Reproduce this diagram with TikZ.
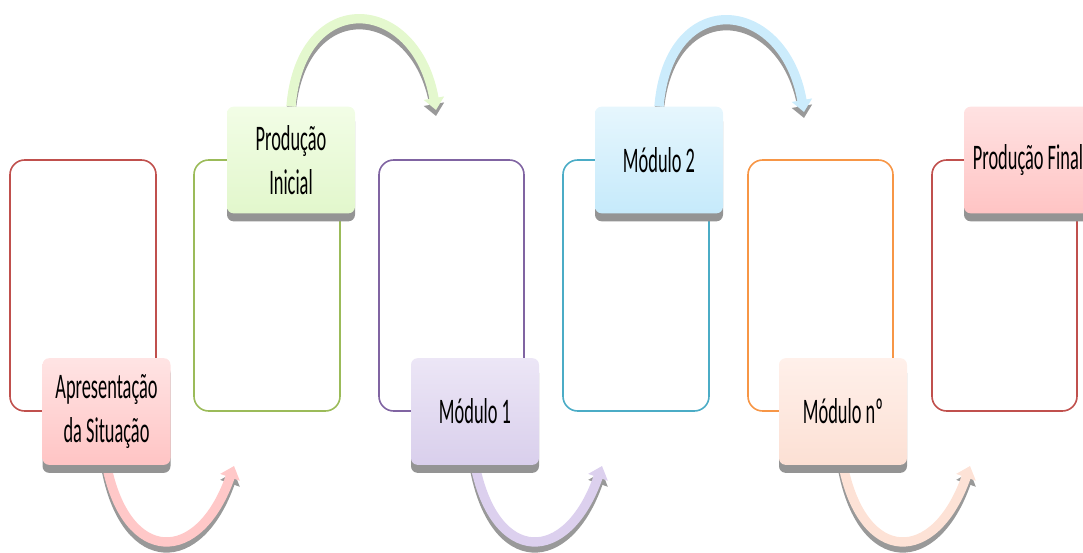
\documentclass[tikz,border=0pt]{standalone}
\usepackage{fontspec}
\setmainfont{Carlito}[FakeStretch=0.51]
\usepackage{tikz}
\usetikzlibrary{arrows.meta,shadows,backgrounds}

\definecolor{frRed}{HTML}{C0504D}
\definecolor{frGreen}{HTML}{9BBB59}
\definecolor{frPurple}{HTML}{8064A2}
\definecolor{frTeal}{HTML}{4BACC6}
\definecolor{frOrange}{HTML}{F79646}

\tikzset{
  frame/.style={line width=1.2pt, rounded corners=11pt},
  lbl/.style={rounded corners=5pt, minimum width=96pt, minimum height=80pt,
    align=center, inner sep=2pt, font=\fontsize{27}{33}\selectfont,
    drop shadow={shadow xshift=0pt, shadow yshift=-6pt, fill=black!42, opacity=1}},
  jump/.style={line width=7pt, -{Triangle[length=9pt,width=15pt]}},
  jumpshade/.style={jump, draw=black!40, transform canvas={yshift=-4.5pt}},
}

\begin{document}
\begin{tikzpicture}[x=0.75pt,y=0.75pt,yscale=-1,xscale=1]
\useasboundingbox (0,0) rectangle (1083,553);
\clip (0,0) rectangle (1083,553);

% Text Node
\node (apres) [lbl, top color={rgb,255:red,255;green,228;blue,228}, bottom color={rgb,255:red,255;green,196;blue,196}] at (106.5,411.5) {Apresentação\\da Situação} ;
% Text Node
\node (prodini) [lbl, top color={rgb,255:red,242;green,253;blue,230}, bottom color={rgb,255:red,226;green,247;blue,204}] at (291,160) {Produção\\Inicial} ;
% Text Node
\node (mod1) [lbl, top color={rgb,255:red,236;green,230;blue,246}, bottom color={rgb,255:red,217;green,207;blue,236}] at (475,411.5) {Módulo 1} ;
% Text Node
\node (mod2) [lbl, top color={rgb,255:red,230;green,246;blue,253}, bottom color={rgb,255:red,198;green,234;blue,251}] at (659,160) {Módulo 2} ;
% Text Node
\node (modn) [lbl, top color={rgb,255:red,255;green,240;blue,234}, bottom color={rgb,255:red,252;green,224;blue,212}] at (843,411.5) {Módulo nº} ;
% Text Node
\node (prodfin) [lbl, top color={rgb,255:red,255;green,226;blue,226}, bottom color={rgb,255:red,255;green,196;blue,196}] at (1028,160) {Produção Final} ;

% Arrow ends
\coordinate (tipA) at (234,466) ;
\coordinate (tipB) at (436,110) ;
\coordinate (tipC) at (602,466) ;
\coordinate (tipD) at (804,112) ;
\coordinate (tipE) at (970,466) ;

\begin{scope}[on background layer]
%Shape: Rounded Rect [frames]
\draw [frame, frRed]    (10,160) rectangle (156,411) ;
\draw [frame, frGreen]  (194,160) rectangle (340,411) ;
\draw [frame, frPurple] (379,160) rectangle (524,411) ;
\draw [frame, frTeal]   (563,160) rectangle (709,411) ;
\draw [frame, frOrange] (748,160) rectangle (893,411) ;
\draw [frame, frRed]    (932,160) rectangle (1077,411) ;

%Curved Arrows
\draw [jumpshade] (apres.south) .. controls +(20,100) and +(-35,100) .. (tipA) ;
\draw [jump, draw={rgb,255:red,255;green,200;blue,200}] (apres.south) .. controls +(20,100) and +(-35,100) .. (tipA) ;
\draw [jumpshade] (prodini.north) .. controls +(10,-120) and +(-20,-115) .. (tipB) ;
\draw [jump, draw={rgb,255:red,228;green,248;blue,206}] (prodini.north) .. controls +(10,-120) and +(-20,-115) .. (tipB) ;
\draw [jumpshade] (mod1.south) .. controls +(20,100) and +(-35,100) .. (tipC) ;
\draw [jump, draw={rgb,255:red,220;green,208;blue,238}] (mod1.south) .. controls +(20,100) and +(-35,100) .. (tipC) ;
\draw [jumpshade] (mod2.north) .. controls +(10,-120) and +(-20,-115) .. (tipD) ;
\draw [jump, draw={rgb,255:red,204;green,236;blue,252}] (mod2.north) .. controls +(10,-120) and +(-20,-115) .. (tipD) ;
\draw [jumpshade] (modn.south) .. controls +(20,100) and +(-35,100) .. (tipE) ;
\draw [jump, draw={rgb,255:red,253;green,226;blue,214}] (modn.south) .. controls +(20,100) and +(-35,100) .. (tipE) ;
\end{scope}

\end{tikzpicture}
\end{document}
